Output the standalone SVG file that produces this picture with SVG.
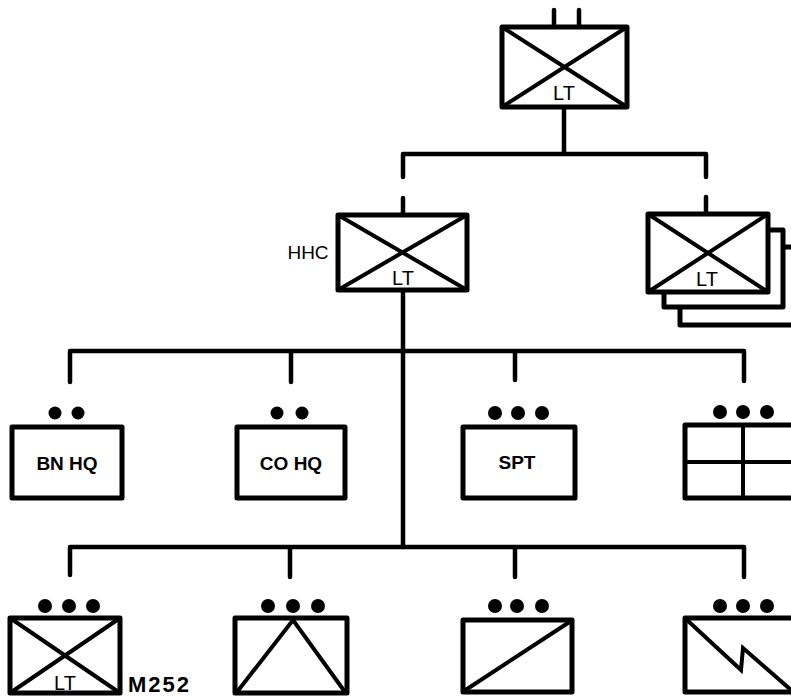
<svg xmlns="http://www.w3.org/2000/svg" width="791" height="696" viewBox="0 0 791 696">
<style>
.box{fill:#fff;stroke:#000;stroke-width:5;stroke-linejoin:round}
.ln{fill:none;stroke:#000;stroke-width:4.5;stroke-linecap:round;stroke-linejoin:round}
.x{fill:none;stroke:#000;stroke-width:4;stroke-linecap:round}
.t{font-family:"Liberation Sans",Arial,sans-serif;fill:#000;text-anchor:middle}
.lt{font-size:20px}
.b{font-weight:bold}
.dot{fill:#000}
</style>
<rect width="791" height="696" fill="#fff"/>
<g id="connectors">
<path class="ln" d="M554,10V27M579,10V27"/>
<path class="ln" d="M564,107V154M403,177V154H706V177"/>
<path class="ln" d="M403,198V215M706,197V214"/>
<path class="ln" d="M403,290V547"/>
<path class="ln" d="M70,382V351H744V381M291,351V382M515,351V380"/>
<path class="ln" d="M70,575V547H744V577M290,547V577M515,547V577"/>
</g>
<g id="top">
<rect class="box" x="502" y="27" width="125" height="80"/>
<path class="x" d="M502,27L627,107M627,27L502,107"/>
<text class="t lt" x="564" y="100">LT</text>
</g>
<g id="hhc">
<rect class="box" x="338" y="215" width="129" height="75"/>
<path class="x" d="M338,215L467,290M467,215L338,290"/>
<text class="t lt" x="403" y="285">LT</text>
<text class="t" x="308" y="259" font-size="19">HHC</text>
</g>
<g id="companies">
<rect class="box" x="680" y="247" width="130" height="78"/>
<rect class="box" x="664" y="230" width="119" height="77"/>
<rect class="box" x="648" y="214" width="120" height="78"/>
<path class="x" d="M648,214L768,292M768,214L648,292"/>
<text class="t lt" x="707" y="286">LT</text>
</g>
<g id="bnhq">
<circle class="dot" cx="55" cy="413" r="6.5"/><circle class="dot" cx="78" cy="413" r="6.5"/>
<rect class="box" x="12" y="427" width="110" height="71"/>
<text class="t b" x="67" y="470" font-size="19">BN HQ</text>
</g>
<g id="cohq">
<circle class="dot" cx="277" cy="413" r="6.5"/><circle class="dot" cx="302" cy="413" r="6.5"/>
<rect class="box" x="237" y="427" width="108" height="71"/>
<text class="t b" x="291" y="470" font-size="19">CO HQ</text>
</g>
<g id="spt">
<circle class="dot" cx="495" cy="413" r="7"/><circle class="dot" cx="518" cy="413" r="7"/><circle class="dot" cx="542" cy="413" r="7"/>
<rect class="box" x="463" y="427" width="112" height="71"/>
<text class="t b" x="517" y="469" font-size="19">SPT</text>
</g>
<g id="grid">
<circle class="dot" cx="720" cy="412" r="7"/><circle class="dot" cx="743" cy="412" r="7"/><circle class="dot" cx="767" cy="412" r="7"/>
<rect class="box" x="685" y="425" width="120" height="73"/>
<path class="x" d="M743,425V498M685,462H791"/>
</g>
<g id="lt-m252">
<circle class="dot" cx="45" cy="606" r="7"/><circle class="dot" cx="69" cy="606" r="7"/><circle class="dot" cx="93" cy="606" r="7"/>
<rect class="box" x="10" y="618" width="110" height="75"/>
<path class="x" d="M10,618L120,693M120,618L10,693"/>
<text class="t lt" x="65" y="690">LT</text>
<text class="t b" x="128" y="692" font-size="22" letter-spacing="2" style="text-anchor:start">M252</text>
</g>
<g id="triangle">
<circle class="dot" cx="268" cy="606" r="7"/><circle class="dot" cx="293" cy="606" r="7"/><circle class="dot" cx="318" cy="606" r="7"/>
<rect class="box" x="235" y="618" width="112" height="75"/>
<path class="x" d="M237,692L293,620L345,692"/>
</g>
<g id="diagonal">
<circle class="dot" cx="495" cy="606" r="7"/><circle class="dot" cx="517" cy="606" r="7"/><circle class="dot" cx="542" cy="606" r="7"/>
<rect class="box" x="463" y="620" width="109" height="72"/>
<path class="x" d="M464,691L571,621"/>
</g>
<g id="zigzag">
<circle class="dot" cx="720" cy="606" r="7"/><circle class="dot" cx="743" cy="606" r="7"/><circle class="dot" cx="767" cy="606" r="7"/>
<rect class="box" x="685" y="618" width="120" height="74"/>
<path class="x" d="M687,620L741,670L743,648L791,690"/>
</g>
</svg>
